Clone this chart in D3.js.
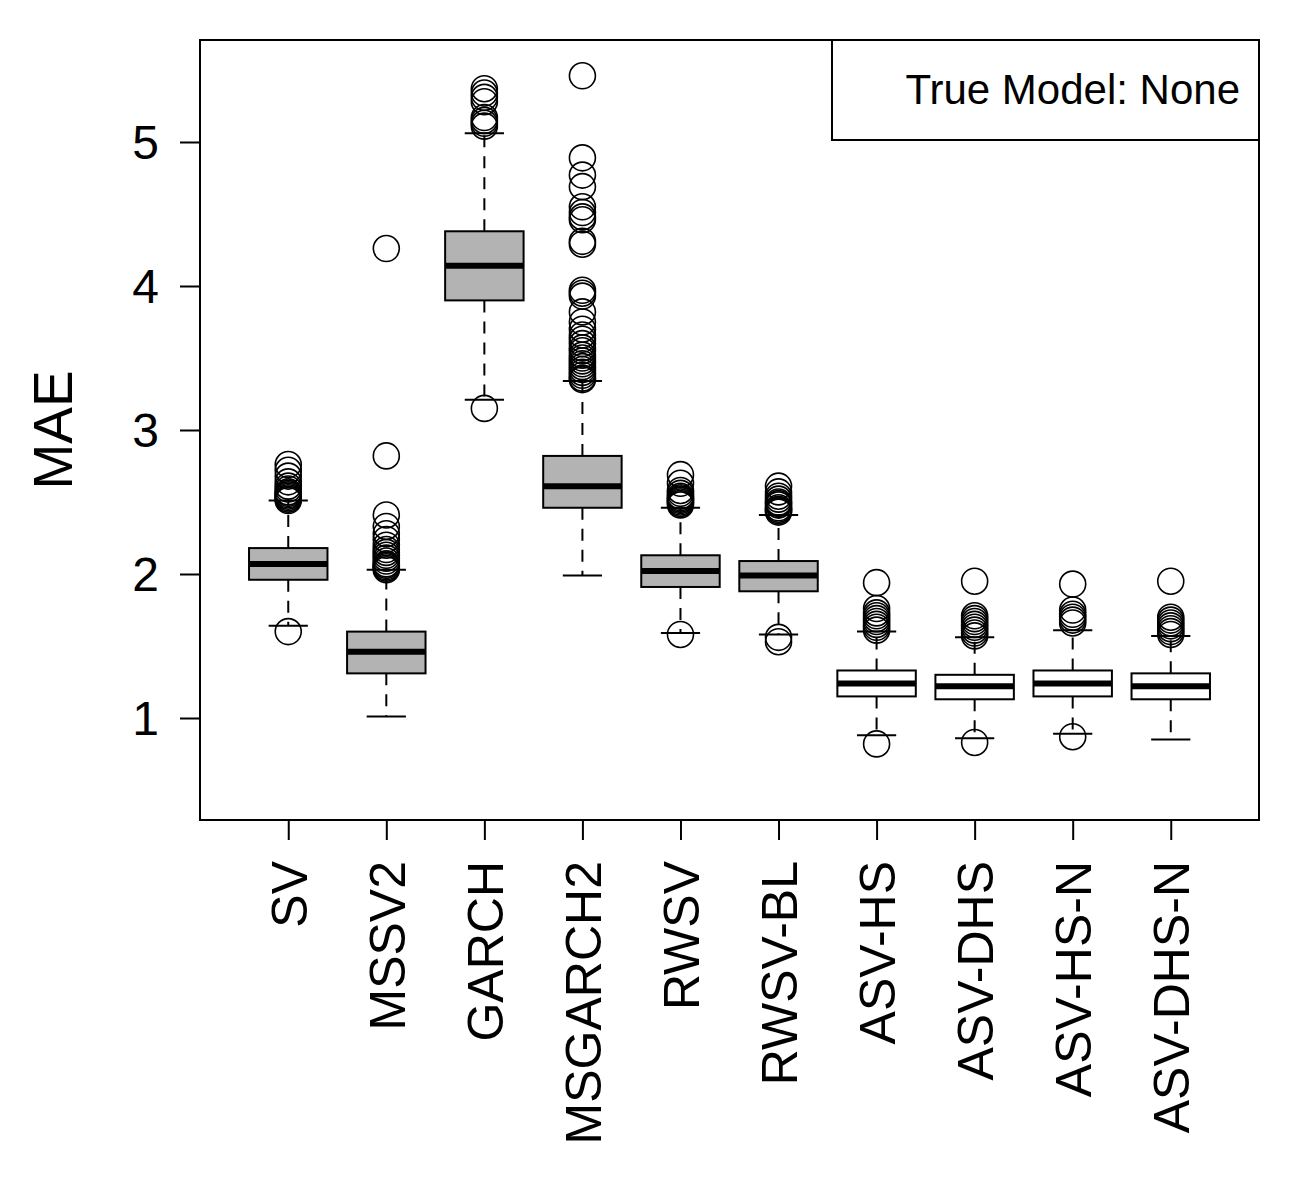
<!DOCTYPE html>
<html>
<head>
<meta charset="utf-8">
<script src="https://cdn.jsdelivr.net/npm/d3@7"></script>
<style>
  body { margin: 0; background: #fff; }
  text { font-family: "Liberation Sans", Arial, sans-serif; fill: #000; }
</style>
</head>
<body>
<svg id="chart" width="1300" height="1200"></svg>
<script>
// model names on the x axis
const models = ['SV', 'MSSV2', 'GARCH', 'MSGARCH2', 'RWSV', 'RWSV-BL', 'ASV-HS', 'ASV-DHS', 'ASV-HS-N', 'ASV-DHS-N'];

// box stats
const lowWhisker = [1.64, 1.01, 3.21, 1.99, 1.59, 1.58, 0.88, 0.86, 0.89, 0.85];
const q1         = [1.96, 1.31, 3.90, 2.46, 1.91, 1.88, 1.15, 1.13, 1.15, 1.13];
const median     = [2.07, 1.46, 4.14, 2.61, 2.02, 1.99, 1.24, 1.22, 1.24, 1.22];
const q3         = [2.18, 1.60, 4.38, 2.82, 2.13, 2.09, 1.33, 1.30, 1.33, 1.31];
const highWhisker = [2.51, 2.03, 5.06, 3.34, 2.46, 2.41, 1.60, 1.56, 1.61, 1.57];

// outliers per model
const outliers = [
    [2.76, 2.72, 2.68, 2.64, 2.61, 2.59, 2.57, 2.56, 2.55, 2.54, 2.53, 2.52, 2.51, 1.60],
    [4.26, 2.82, 2.41, 2.33, 2.28, 2.24, 2.20, 2.17, 2.15, 2.13, 2.11, 2.09, 2.07, 2.06, 2.05, 2.04, 2.03],
    [5.37, 5.34, 5.31, 5.28, 5.17, 5.15, 5.13, 5.11, 3.15],
    [5.46, 4.89, 4.77, 4.69, 4.55, 4.51, 4.48, 4.46, 4.31, 4.29, 3.97, 3.95, 3.93, 3.82, 3.75, 3.70,
     3.66, 3.63, 3.60, 3.57, 3.55, 3.52, 3.50, 3.48, 3.46, 3.44, 3.42, 3.40, 3.38, 3.36, 3.35],
    [2.69, 2.63, 2.58, 2.56, 2.54, 2.53, 2.52, 2.51, 2.50, 2.49, 2.48, 1.58],
    [2.61, 2.57, 2.54, 2.52, 2.50, 2.49, 2.48, 2.46, 2.45, 2.44, 2.43, 1.56, 1.53],
    [1.94, 1.76, 1.73, 1.71, 1.69, 1.67, 1.65, 1.63, 1.61, 0.82],
    [1.95, 1.71, 1.69, 1.67, 1.65, 1.63, 1.61, 1.59, 1.57, 0.83],
    [1.93, 1.75, 1.72, 1.70, 1.68, 1.66, 0.87],
    [1.95, 1.70, 1.68, 1.66, 1.64, 1.62, 1.60, 1.58]
];

const fills = ['#b3b3b3', '#b3b3b3', '#b3b3b3', '#b3b3b3', '#b3b3b3', '#b3b3b3', '#fff', '#fff', '#fff', '#fff'];
const yTicks = [1, 2, 3, 4, 5];
const legendText = 'True Model: None';

const plotL = 200, plotR = 1259, plotT = 40, plotB = 820;

var svg = d3.select('#chart');

let x = d3.scalePoint().domain(models).range([plotL, plotR]).padding(0.9);
let y = d3.scaleLinear().domain([0.2917, 5.7083]).range([plotB, plotT]);
let boxW = x.step() * 0.8;

// y axis
let yAx = svg.append('g')
    .attr('transform', `translate(${plotL},0)`)
    .call(d3.axisLeft(y).tickValues(yTicks).tickFormat(d3.format('d')).tickSize(20).tickPadding(21));
yAx.select('.domain').remove();
yAx.selectAll('line').attr('stroke', '#000').attr('stroke-width', 2);
yAx.selectAll('text').style('font-size', '48px').attr('dy', '0.35em');

// x axis
let xAx = svg.append('g')
    .attr('transform', `translate(0,${plotB})`)
    .call(d3.axisBottom(x).tickSize(20));
xAx.select('.domain').remove();
xAx.selectAll('line').attr('stroke', '#000').attr('stroke-width', 2);
xAx.selectAll('text')
    .style('font-size', '50px')
    .attr('transform', 'rotate(-90)')
    .attr('text-anchor', 'end')
    .attr('x', -41)
    .attr('y', 0)
    .attr('dy', '0.36em');

// boxes
models.forEach(function(m, i) {
    let cx = x(m);
    let g = svg.append('g');

    // whiskers
    g.append('line')
        .attr('x1', cx).attr('x2', cx)
        .attr('y1', y(q3[i])).attr('y2', y(highWhisker[i]))
        .attr('stroke', '#000').attr('stroke-width', 2)
        .attr('stroke-dasharray', '12,9');
    g.append('line')
        .attr('x1', cx).attr('x2', cx)
        .attr('y1', y(q1[i])).attr('y2', y(lowWhisker[i]))
        .attr('stroke', '#000').attr('stroke-width', 2)
        .attr('stroke-dasharray', '12,9');

    // staples
    [lowWhisker[i], highWhisker[i]].forEach(function(v) {
        g.append('line')
            .attr('x1', cx - boxW / 4).attr('x2', cx + boxW / 4)
            .attr('y1', y(v)).attr('y2', y(v))
            .attr('stroke', '#000').attr('stroke-width', 2);
    });

    g.append('rect')
        .attr('x', cx - boxW / 2)
        .attr('y', y(q3[i]))
        .attr('width', boxW)
        .attr('height', y(q1[i]) - y(q3[i]))
        .attr('fill', fills[i])
        .attr('stroke', '#000')
        .attr('stroke-width', 2);

    g.append('line')
        .attr('x1', cx - boxW / 2).attr('x2', cx + boxW / 2)
        .attr('y1', y(median[i])).attr('y2', y(median[i]))
        .attr('stroke', '#000').attr('stroke-width', 6);

    g.selectAll('circle')
        .data(outliers[i])
        .enter().append('circle')
        .attr('cx', cx)
        .attr('cy', d => y(d))
        .attr('r', 13)
        .attr('fill', 'none')
        .attr('stroke', '#000')
        .attr('stroke-width', 1.6);
});

// frame
svg.append('rect')
    .attr('x', plotL).attr('y', plotT)
    .attr('width', plotR - plotL).attr('height', plotB - plotT)
    .attr('fill', 'none').attr('stroke', '#000').attr('stroke-width', 2);

// legend
svg.append('rect')
    .attr('x', 832).attr('y', plotT)
    .attr('width', plotR - 832).attr('height', 100)
    .attr('fill', '#fff').attr('stroke', '#000').attr('stroke-width', 2);
svg.append('text')
    .attr('x', 1240).attr('y', 104)
    .attr('text-anchor', 'end')
    .style('font-size', '42px')
    .text(legendText);

// y title
svg.append('text')
    .attr('transform', 'translate(72,430) rotate(-90)')
    .attr('text-anchor', 'middle')
    .style('font-size', '55px')
    .text('MAE');
</script>
</body>
</html>
